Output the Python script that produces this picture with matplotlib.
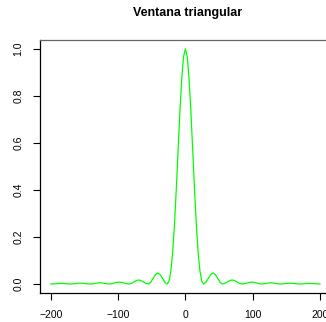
import numpy as np
import matplotlib.pyplot as plt

plt.rcParams['font.family'] = ['Liberation Sans', 'DejaVu Sans']

# Spectrum of the triangular window (right half, symmetric)
freq_pos = [0, 2.7, 5.4, 8.1, 10.8, 13.5, 16.2, 18.9, 21.6, 24.3, 27,
            30.5, 34, 37.5, 41, 44.5, 48, 51.5, 55,
            58.6, 62.3, 65.9, 69.5, 73.1, 76.8, 80.4, 84,
            87.6, 91.3, 94.9, 98.5, 102.1, 105.8, 109.4, 113,
            116.5, 120, 123.5, 127, 130.5, 134, 137.5, 141,
            144.6, 148.3, 151.9, 155.5, 159.1, 162.8, 166.4, 170,
            173.6, 177.3, 180.9, 184.5, 188.1, 191.8, 195.4, 199, 200]
amp_pos = [1.0, 0.968, 0.875, 0.737, 0.573, 0.405, 0.255, 0.135, 0.055, 0.012, 0.0,
           0.007, 0.024, 0.040, 0.047, 0.040, 0.024, 0.007, 0.0,
           0.0025, 0.0085, 0.0145, 0.017, 0.0145, 0.0085, 0.0025, 0.0,
           0.0012, 0.004, 0.0068, 0.008, 0.0068, 0.004, 0.0012, 0.0,
           0.0007, 0.0025, 0.0043, 0.005, 0.0043, 0.0025, 0.0007, 0.0,
           0.0005, 0.0018, 0.003, 0.0035, 0.003, 0.0018, 0.0005, 0.0,
           0.0004, 0.0013, 0.0021, 0.0025, 0.0021, 0.0013, 0.0004, 0.0, 0.0]

freq = np.concatenate([-np.array(freq_pos[::-1]), np.array(freq_pos[1:])])
amp = np.concatenate([np.array(amp_pos[::-1]), np.array(amp_pos[1:])])

xticks = [-200, -100, 0, 100, 200]
yticks = [0.0, 0.2, 0.4, 0.6, 0.8, 1.0]

fig = plt.figure(figsize=(3.26, 3.22), dpi=100)
# the plot region runs past the right edge of the picture, as in the original
ax = fig.add_axes([40 / 326, 28.6 / 322, 290.8 / 326, 253.8 / 322])
ax.plot(freq, amp, color='#00ff00', lw=0.9)

ax.set_xlim(-216, 216)
ax.set_ylim(-0.04, 1.04)
ax.set_xticks(xticks)
ax.set_yticks(yticks)
ax.set_yticklabels(['%.1f' % v for v in yticks], rotation=90, va='center')
ax.tick_params(labelsize=7.5, length=5, width=0.8, pad=7, color='black')
ax.spines['top'].set_color('#666666')
for s in ['top', 'bottom', 'left', 'right']:
    ax.spines[s].set_linewidth(0.9)

fig.text(187.5 / 326, 1 - 13 / 322, 'Ventana triangular', ha='center', va='center',
         fontsize=9, fontweight='bold')

fig.savefig('out.png', dpi=100)
